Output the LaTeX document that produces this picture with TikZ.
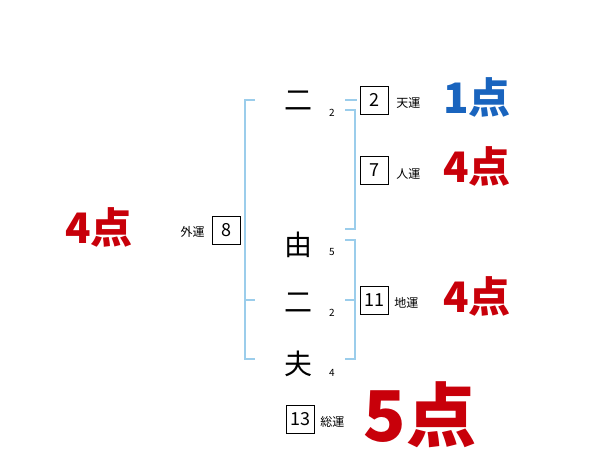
\documentclass[tikz,border=0pt]{standalone}
\usepackage{fontspec}
\newfontfamily\jpfont{Noto Sans CJK JP}
\usetikzlibrary{positioning, calc}
\definecolor{rojopunto}{RGB}{200,0,10}
\definecolor{azulpunto}{RGB}{25,100,190}
\definecolor{celeste}{RGB}{155,205,235}

\begin{document}
\begin{tikzpicture}[x=1pt, y=-1pt,
  moji/.style={font=\jpfont\fontsize{28}{28}\selectfont, inner sep=0pt},
  kakusu/.style={font=\jpfont\fontsize{10}{10}\selectfont, inner sep=0pt},
  unbox/.style={draw, thin, minimum size=28pt, inner sep=0pt, font=\jpfont\fontsize{18}{18}\selectfont},
  unlabel/.style={font=\jpfont\fontsize{12}{12}\selectfont, inner sep=0pt},
  tensu/.style={font=\jpfont\bfseries\fontsize{42}{42}\selectfont, text=rojopunto},
  kakko/.style={celeste, line width=1.5pt}]
  \useasboundingbox (0,0) rectangle (600,470);
  % name characters and stroke counts
  \node[moji] (c1) at (298,101) {二};
  \node[moji] (c2) at (298,245) {由};
  \node[moji] (c3) at (298,303) {二};
  \node[moji] (c4) at (298,364) {夫};
  \foreach \n/\y/\k in {1/113/2, 2/252/5, 3/313/2, 4/373/4} { \node[kakusu] (k\n) at (332,\y) {\k}; }
  % brackets
  \coordinate (gtop) at (245,100); \coordinate (gmid) at (245,300); \coordinate (gbot) at (245,359);
  \draw[kakko] ($(gtop)+(10,0)$) -- (gtop) -- (gbot) -- ++(10,0);
  \draw[kakko] (gmid) -- ++(10,0);
  \coordinate (tt) at (345,100);
  \draw[kakko] (tt) -- ++(12,0);
  \coordinate (jtop) at (355,110); \coordinate (jbot) at (355,229);
  \draw[kakko] ($(jtop)+(-10,0)$) -- (jtop) -- (jbot) -- ++(-10,0);
  \coordinate (ctop) at (355,240); \coordinate (cbot) at (355,359);
  \draw[kakko] ($(ctop)+(-10,0)$) -- (ctop) -- (cbot) -- ++(-10,0);
  \draw[kakko] (cbot |- gmid) -- ++(-10,0);
  % fortune boxes
  \node[unbox] (ten) at (374,100) {2};
  \node[unbox] (jin) at (374,170) {7};
  \node[unbox] (chi) at (374,300) {11};
  \node[unbox] (so) at (300,419) {13};
  \node[unbox] (gai) at (226,230) {8};
  \node[unlabel, right=8pt of ten, yshift=-3pt] (tenl) {天運};
  \node[unlabel, right=8pt of jin, yshift=-4pt] (jinl) {人運};
  \node[unlabel, right=6pt of chi, yshift=-3pt] (chil) {地運};
  \node[unlabel, right=6pt of so, yshift=-3pt] (sol) {総運};
  \node[unlabel, left=7pt of gai, yshift=-2pt] (gail) {外運};
  % points
  \node[tensu, text=azulpunto] (pten) at (477,97) {1点};
  \node[tensu] (pjin) at (477,166) {4点};
  \node[tensu] (pchi) at (477,296) {4点};
  \node[tensu] (pgai) at (99,227) {4点};
  \node[tensu, font=\jpfont\bfseries\fontsize{70}{70}\selectfont] (pso) at (420,415) {5点};
\end{tikzpicture}
\end{document}
